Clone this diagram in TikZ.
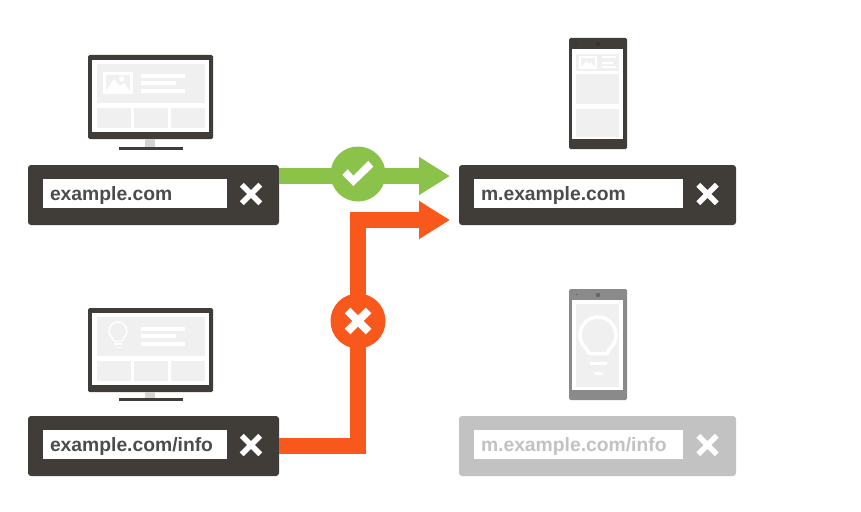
\documentclass[tikz,border=0pt]{standalone}
\usepackage{fontspec}
\setmainfont{Liberation Sans}
\usetikzlibrary{arrows.meta,shapes.misc}
\definecolor{darkbar}{HTML}{403C38}
\definecolor{fadebar}{HTML}{C2C2C2}
\definecolor{fadephone}{HTML}{8A8A8A}
\definecolor{panel}{HTML}{F0F0F0}
\definecolor{passgreen}{HTML}{8BC34A}
\definecolor{failred}{HTML}{F9581D}
\tikzset{
  urlbar/.style={fill=#1,rounded corners=3pt,minimum height=60pt,inner sep=0pt},
  urlfield/.style={fill=white,minimum height=29pt,inner xsep=7pt,inner ysep=0pt,
    align=left,text height=15pt,text depth=2pt,font=\fontsize{19.3}{19.3}\bfseries},
  closemark/.style={cross out,draw=white,line width=5.5pt,minimum size=13pt,inner sep=0pt},
  badge/.style={circle,fill=#1,minimum size=55pt,inner sep=0pt},
  routeline/.style={draw=#1,line width=16pt,-{Triangle[length=31pt,width=36pt]}},
  panelbox/.style={fill=panel},
  bulbline/.style={draw=white,fill=none,line join=round}
}
\newcommand{\monitorbody}{
  \fill[darkbar,rounded corners=1.5pt] (88,55) rectangle (213,139);
  \fill[white] (92,60) rectangle (209,132);
  \fill[panelbox] (96.5,64) rectangle (205,103);
  \fill[panelbox] (96.5,108) rectangle (130.5,128);
  \fill[panelbox] (134,108) rectangle (167.5,128);
  \fill[panelbox] (171,108) rectangle (205,128);
  \fill[white] (141,74) rectangle (185,78);
  \fill[white] (141,81) rectangle (176,85);
  \fill[white] (141,89) rectangle (185,93);
}
\newcommand{\phonebody}[2]{
  \fill[#1,rounded corners=1.5pt] (569,38) rectangle (627,149);
  \fill[white] (572,49) rectangle (623,139);
  \fill[#2] (598,44) circle [radius=2.2];
  \fill[#2] (577,43.5) circle [radius=0.8];
}
\begin{document}
\begin{tikzpicture}[x=1pt,y=-1pt]
\useasboundingbox (0,0) rectangle (861,511);
% desktop, top
\monitorbody
\fill[white] (103,72) rectangle (133,94);
\fill[panelbox] (106,75) rectangle (130,91);
\fill[white] (106,91) -- (114,79) -- (120,86) -- (124,83) -- (130,91) -- cycle;
\fill[white] (121.5,79) circle [radius=2.6];
\fill[panel!75!gray] (145,139) rectangle (155,147);
\fill[darkbar] (119,147) rectangle (183,149.5);
% desktop, bottom
\begin{scope}[shift={(0,253)}]
\monitorbody
\draw[bulbline,line width=1.4pt] (118,78) +(130:9) arc (130:410:9) -- (122,88) -- (114,88) -- cycle;
\draw[bulbline,line width=1.4pt] (114,91) -- (122,91) (115.5,94.5) -- (120.5,94.5);
\fill[panel!75!gray] (145,139) rectangle (155,145);
\end{scope}
\fill[darkbar] (119,398) rectangle (183,400.5);
% phone, top
\phonebody{darkbar}{black!80}
\fill[panelbox] (576,54) rectangle (619,71);
\fill[panelbox] (576,74) rectangle (619,104);
\fill[panelbox] (576,109) rectangle (619,137);
\fill[white] (579,56) rectangle (597,69);
\fill[panelbox] (581,58) rectangle (595,67);
\fill[white] (581,67) -- (586,61) -- (589,64) -- (591,62) -- (595,67) -- cycle;
\fill[white] (602,56.5) rectangle (616,58.5);
\fill[white] (602,61.5) rectangle (613,63.5);
\fill[white] (602,66) rectangle (616,68);
% phone, bottom
\begin{scope}[shift={(0,251)}]
\phonebody{fadephone}{black!60}
\fill[panelbox] (576,53) rectangle (619,136);
\draw[bulbline,line width=3.5pt] (598,84) +(130:18) arc (130:410:18) -- (607,102.5) -- (589,102.5) -- cycle;
\draw[bulbline,line width=3pt] (590,112) -- (607,112);
\draw[bulbline,line width=3pt] (595,122) -- (603,122);
\end{scope}
% address bars
\node[urlbar=darkbar,minimum width=251pt] (barDesk) at (153.5,195) {};
\node[urlbar=darkbar,minimum width=251pt] (barInfo) at (153.5,446) {};
\node[urlbar=darkbar,minimum width=277pt] (barMobile) at (597.5,195) {};
\node[urlbar=fadebar,minimum width=277pt] (barFaded) at (597.5,446) {};
\node[urlfield,text width=170pt,text=black!70] (fieldDesk) at (135,193.5) {example.com};
\node[urlfield,text width=170pt,text=black!70] (fieldInfo) at (135,444.5) {example.com/info};
\node[urlfield,text width=195pt,text=black!70] (fieldMobile) at (578.5,193.5) {m.example.com};
\node[urlfield,text width=195pt,text=fadebar] (fieldFaded) at (578.5,444.5) {m.example.com/info};
\node[closemark] (closeDesk) at (251,194) {};
\node[closemark] (closeInfo) at (251,445) {};
\node[closemark] (closeMobile) at (707.5,194) {};
\node[closemark] (closeFaded) at (707.5,445) {};
% routes
\coordinate (tipPass) at (450,176);
\coordinate (tipFail) at (450,220);
\coordinate (bendLow) at (358,445.5);
\draw[routeline=passgreen] (barDesk.east |- tipPass) -- (tipPass);
\draw[routeline=failred] (barInfo.east |- bendLow) -- (bendLow) -- (bendLow |- tipFail) -- (tipFail);
\node[badge=passgreen] (badgePass) at (358,174) {};
\node[badge=failred] (badgeFail) at (358,321) {};
\fill[white] (342.3,175) -- (347.7,169.3) -- (353.3,175.7) -- (368.3,160.7) -- (373.3,166.7) -- (353.3,186) -- cycle;
\node[closemark,line width=8pt,minimum size=13pt] (crossFail) at (358,321) {};
\end{tikzpicture}
\end{document}
